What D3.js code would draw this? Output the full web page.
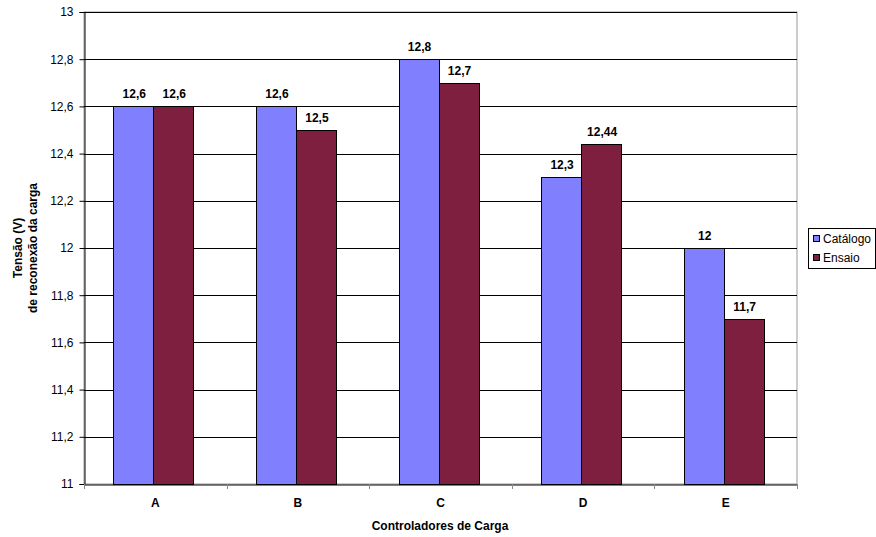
<!DOCTYPE html>
<html><head><meta charset="utf-8">
<script src="https://cdn.jsdelivr.net/npm/d3@7"></script>
<style>body{margin:0;background:#fff}svg{display:block}text{font-family:Arial,"Liberation Sans",sans-serif}</style>
</head><body>
<script>
const categories = ["A","B","C","D","E"];
const seriesNames = ["Catálogo","Ensaio"];
const catalogo = [12.6,12.6,12.8,12.3,12];
const ensaio = [12.6,12.5,12.7,12.44,11.7];
const catalogoLabels = ["12,6","12,6","12,8","12,3","12"];
const ensaioLabels = ["12,6","12,5","12,7","12,44","11,7"];
const yTicks = [11,11.2,11.4,11.6,11.8,12,12.2,12.4,12.6,12.8,13];
const colors = ["#8080ff","#7f1f3f"];

const W=876,H=537;
const svg=d3.select("body").append("svg").attr("width",W).attr("height",H);
const L=84,R=797,T=12,B=484;
const x=d3.scaleBand().domain(categories).range([L,R]).paddingInner(0).paddingOuter(0);
const y=d3.scaleLinear().domain([11,13]).range([B,T]);
const fmt=v=>String(+v.toFixed(1)).replace(".",",");

// plot border
svg.append("rect").attr("x",L).attr("y",T).attr("width",R-L).attr("height",B-T).attr("fill","none").attr("stroke","#999").attr("stroke-width",1);
// gridlines
svg.append("g").selectAll("line").data(yTicks.slice(1)).join("line")
 .attr("x1",L).attr("x2",R).attr("y1",d=>Math.round(y(d))+0.5).attr("y2",d=>Math.round(y(d))+0.5)
 .attr("stroke","#000").attr("stroke-width",1);

// bars
const bw=40;
const data=categories.map((c,i)=>[{c,v:catalogo[i],l:catalogoLabels[i],s:0},{c,v:ensaio[i],l:ensaioLabels[i],s:1}]).flat();
const bx=d=>x(d.c)+x.bandwidth()/2-bw+d.s*bw-2;
svg.append("g").selectAll("rect").data(data).join("rect")
 .attr("x",d=>Math.round(bx(d))+0.5).attr("y",d=>Math.round(y(d.v))+0.5)
 .attr("width",bw).attr("height",d=>Math.round(y(11))-Math.round(y(d.v)))
 .attr("fill",d=>colors[d.s]).attr("stroke","#000").attr("stroke-width",1);
svg.append("g").selectAll("text").data(data).join("text")
 .attr("x",d=>bx(d)+bw/2+1).attr("y",d=>y(d.v)-8)
 .attr("text-anchor","middle").attr("font-size",12).attr("font-weight","bold").text(d=>d.l);

// y axis
const ya=svg.append("g").attr("transform",`translate(${L+0.5},0)`)
 .call(d3.axisLeft(y).tickValues(yTicks).tickSize(5).tickPadding(6).tickFormat(fmt));
ya.select(".domain").attr("stroke","#000");
ya.selectAll(".tick line").attr("stroke","#000");
ya.selectAll("text").attr("font-size",12).attr("fill","#000").style("font-family","Arial, 'Liberation Sans', sans-serif");

// x axis
const xa=svg.append("g").attr("transform",`translate(0,${B+0.5})`)
 .call(d3.axisBottom(x).tickSize(0).tickPadding(14));
xa.select(".domain").attr("stroke","#000");
xa.selectAll("text").attr("font-size",12).attr("font-weight","bold").attr("fill","#000").style("font-family","Arial, 'Liberation Sans', sans-serif");
svg.append("g").selectAll("line").data(categories.slice(1).map(c=>x(c)).concat([L,R])).join("line")
 .attr("x1",d=>Math.round(d)+0.5).attr("x2",d=>Math.round(d)+0.5).attr("y1",B).attr("y2",B+5).attr("stroke","#888");

// titles
svg.append("text").attr("x",440).attr("y",530).attr("text-anchor","middle").attr("font-size",12).attr("font-weight","bold").text("Controladores de Carga");
const yt=svg.append("text").attr("transform","translate(22,248) rotate(-90)").attr("text-anchor","middle").attr("font-size",12).attr("font-weight","bold");
yt.append("tspan").attr("x",0).attr("y",0).text("Tensão (V)");
yt.append("tspan").attr("x",0).attr("y",15).text("de reconexão da carga");

// legend
const lg=svg.append("g");
lg.append("rect").attr("x",808.5).attr("y",228.5).attr("width",67).attr("height",40).attr("fill","#fff").attr("stroke","#000");
seriesNames.forEach((n,i)=>{
  lg.append("rect").attr("x",813.5).attr("y",235.5+i*19).attr("width",6).attr("height",6).attr("fill",colors[i]).attr("stroke","#000");
  lg.append("text").attr("x",823).attr("y",243+i*19).attr("font-size",12).text(n);
});
</script>
</body></html>
